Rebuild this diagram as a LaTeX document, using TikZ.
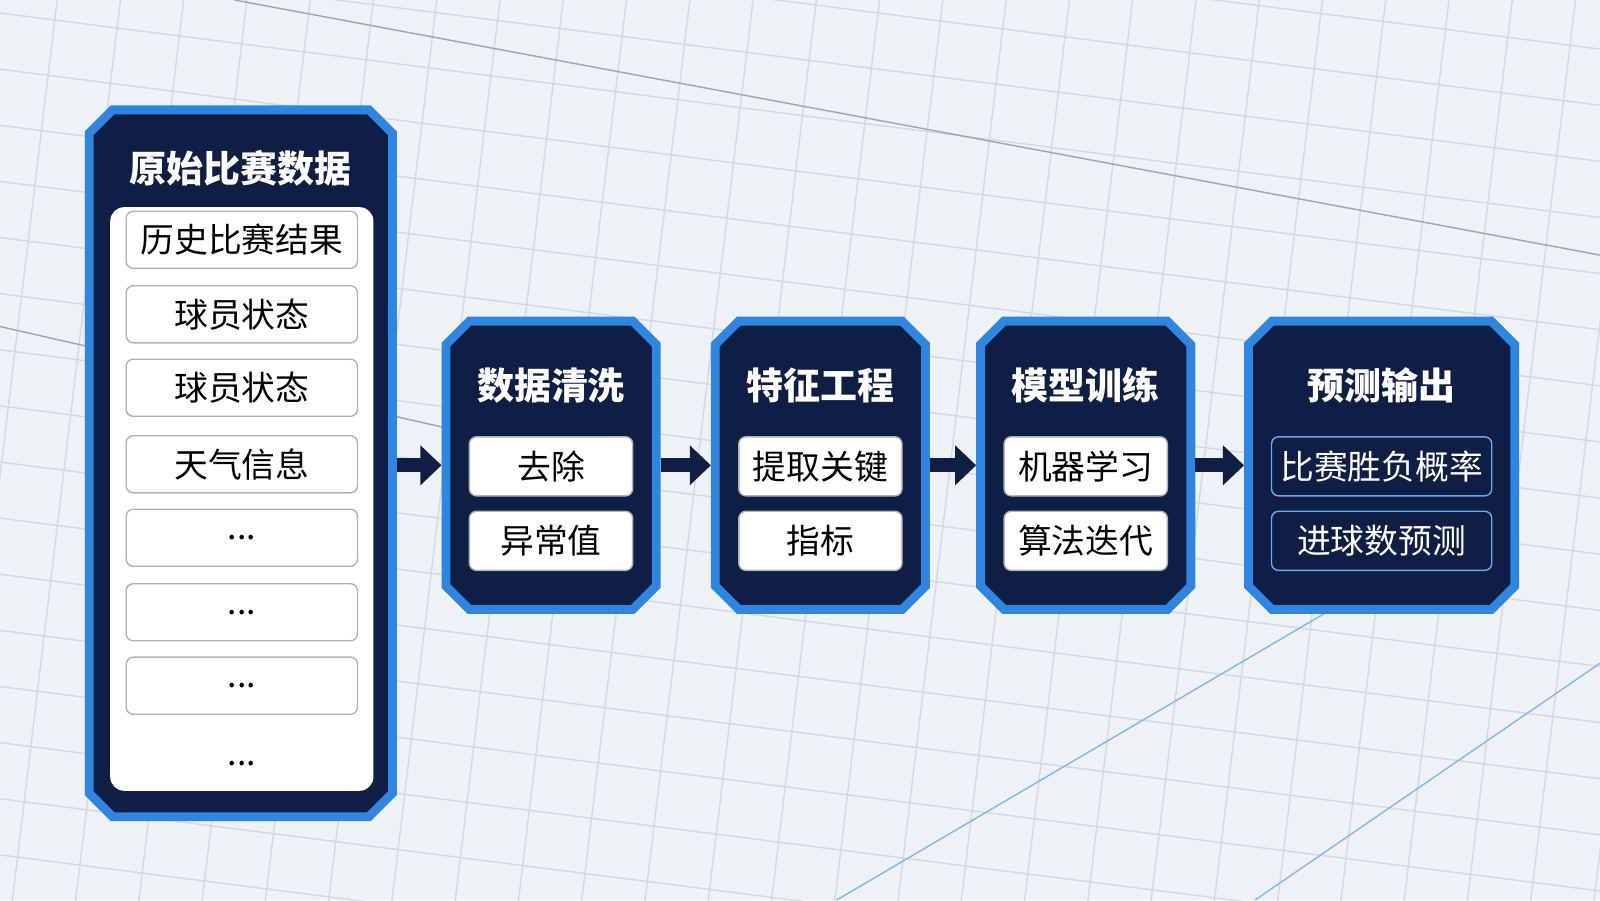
\documentclass[tikz,border=0pt]{standalone}
\usepackage{fontspec}
\setmainfont{Noto Sans CJK SC}
\usetikzlibrary{positioning,shapes.misc,arrows.meta}
\definecolor{navy}{HTML}{0E1E45}
\definecolor{bord}{HTML}{2F86E0}
\definecolor{bgc}{HTML}{EEF1F5}
\definecolor{gridc}{HTML}{D3D9E2}
\tikzset{
  panel/.style={chamfered rectangle, chamfered rectangle xsep=9pt, fill=navy,
    draw=bord, line width=2.5pt, minimum width=2.10cm, minimum height=2.88cm},
  ptitle/.style={text=white, font=\bfseries\fontsize{10.5}{12}\selectfont},
  item/.style={fill=white, draw=gray!60, rounded corners=2pt, minimum width=1.63cm,
    minimum height=0.59cm, inner sep=1pt, font=\fontsize{9.6}{11}\selectfont},
  ditem/.style={item, fill=navy, draw=bord!70, text=white},
  row/.style={item, minimum width=2.31cm, minimum height=0.57cm},
  flow/.style={navy, line width=4pt, -{Triangle[length=6pt,width=11pt]}}
}
\begin{document}
\begin{tikzpicture}[x=0.0102cm,y=-0.0102cm]
        % Background
        \fill[bgc] (0,0) rectangle (1568,882);
        \useasboundingbox (0,0) rectangle (1568,882);
        \begin{scope}
          \clip (0,0) rectangle (1568,882);
          \foreach \k in {-10,...,30}
            \draw[gridc,thin] (-100,\k*55) -- (1700,\k*55+230);
          \foreach \k in {-10,...,40}
            \draw[gridc,thin] (\k*62,-50) -- (\k*62-120,950);
          \draw[bord!60,thin] (820,882) -- (1300,600);
          \draw[bord!60,thin] (1230,882) -- (1568,650);
          \draw[navy!40,thin] (230,0) -- (1568,250);
          \draw[navy!40,thin] (0,320) -- (440,420);
        \end{scope}

        % Raw data panel
        \node[panel, minimum width=3.03cm, minimum height=7.06cm] (raw) at (236,454) {};
        \node[ptitle] (rawt) at (236,165) {原始比赛数据};
        \fill[white, rounded corners=4pt] (108,203) rectangle (366,775);
        \node[row] (r1) at (237,235) {历史比赛结果};
        \node[row] (r2) at (237,308) {球员状态};
        \node[row] (r3) at (237,380) {球员状态};
        \node[row] (r4) at (237,455) {天气信息};
        \node[row] (r5) at (237,527) {...};
        \node[row] (r6) at (237,600) {...};
        \node[row] (r7) at (237,672) {...};
        \node[font=\fontsize{9.6}{11}\selectfont] (r8) at (237,748) {...};

        % Stages
        \node[panel] (clean) at (540,456) {};
        \node[ptitle] at (540,378) {数据清洗};
        \node[item] at (540,457) {去除};
        \node[item] at (540,530) {异常值};

        \node[panel] (feat) at (804,456) {};
        \node[ptitle] at (804,378) {特征工程};
        \node[item] at (804,457) {提取关键};
        \node[item] at (804,530) {指标};

        \node[panel] (train) at (1064,456) {};
        \node[ptitle] at (1064,378) {模型训练};
        \node[item] at (1064,457) {机器学习};
        \node[item] at (1064,530) {算法迭代};

        \node[panel, minimum width=2.66cm] (pred) at (1354,456) {};
        \node[ptitle] at (1354,378) {预测输出};
        \node[ditem, minimum width=2.2cm] at (1354,457) {比赛胜负概率};
        \node[ditem, minimum width=2.2cm] at (1354,530) {进球数预测};

        % Flow
        \draw[flow] (raw.east |- clean.west) -- (clean.west);
        \draw[flow] (clean) -- (feat);
        \draw[flow] (feat) -- (train);
        \draw[flow] (train) -- (pred);
\end{tikzpicture}
\end{document}
